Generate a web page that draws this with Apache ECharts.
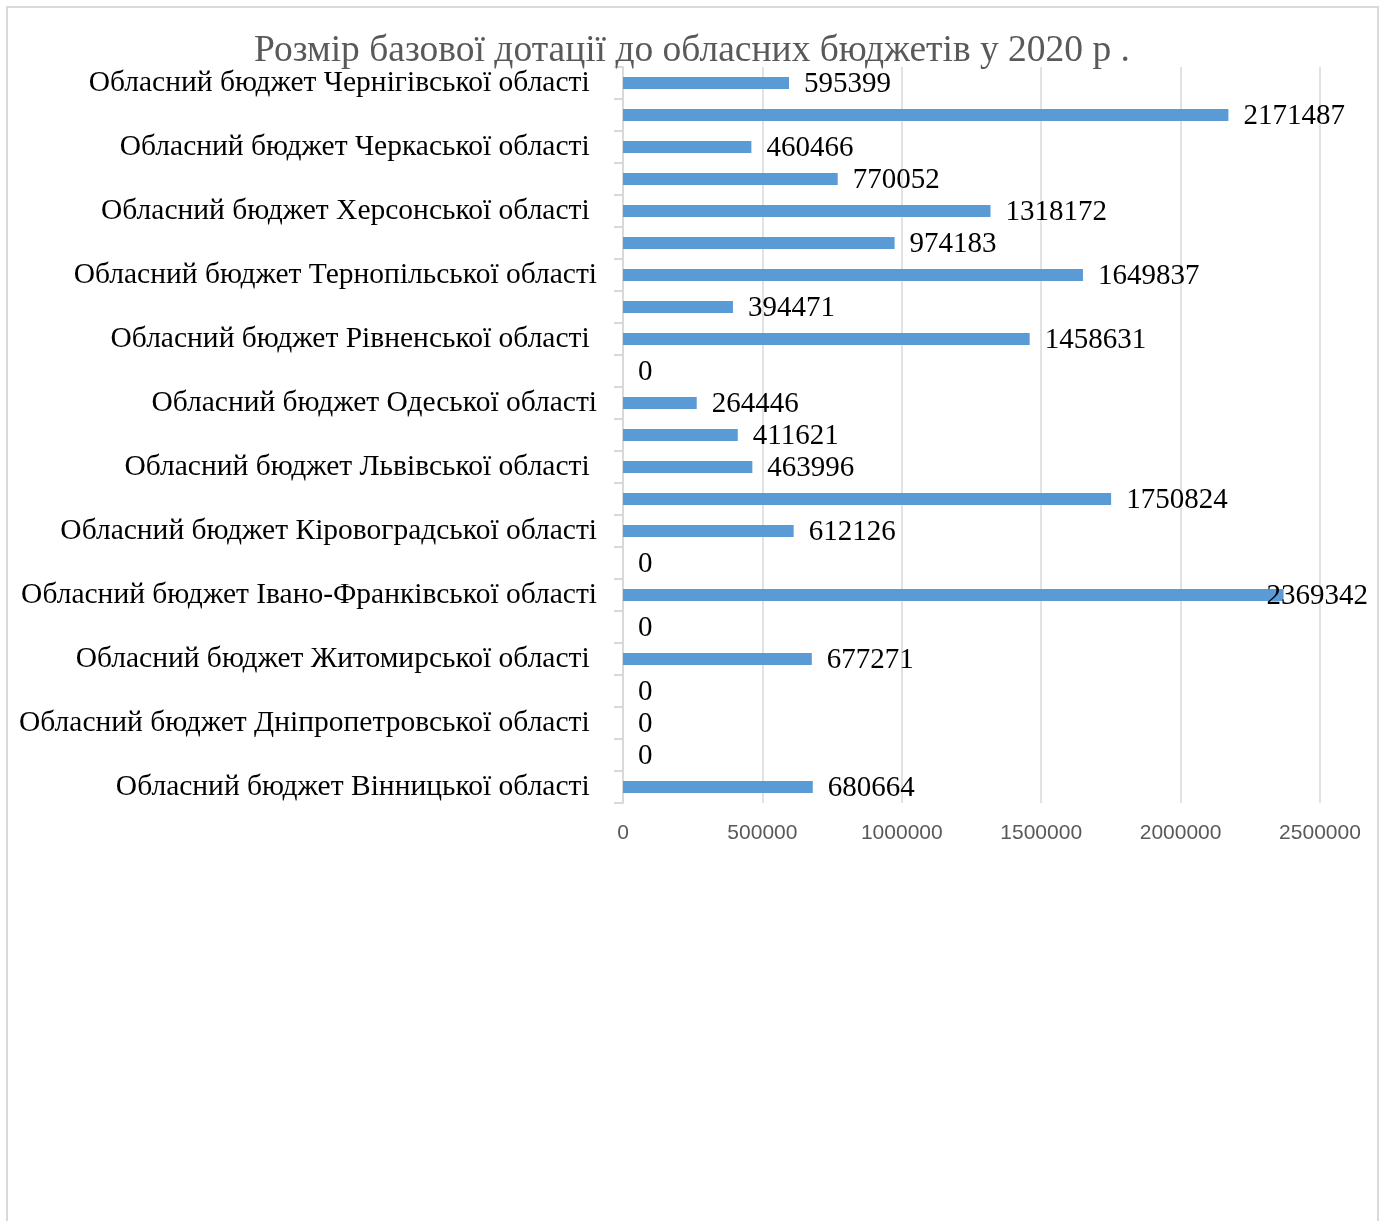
<!DOCTYPE html>
<html>
<head>
<meta charset="utf-8">
<script src="https://cdn.jsdelivr.net/npm/echarts@6/dist/echarts.min.js"></script>
<style>
html,body{margin:0;padding:0;background:#fff;}
#chart{width:1384px;height:1221px;}
</style>
</head>
<body>
<div id="chart"></div>
<script>
const titleText = 'Розмір базової дотації до обласних бюджетів у 2020 р .';
const categories = [
  'Обласний бюджет Вінницької області ',
  'Обласний бюджет Волинської області ',
  'Обласний бюджет Дніпропетровської області ',
  'Обласний бюджет Донецької області ',
  'Обласний бюджет Житомирської області ',
  'Обласний бюджет Закарпатської області ',
  'Обласний бюджет Івано-Франківської області',
  'Обласний бюджет Київської області',
  'Обласний бюджет Кіровоградської області',
  'Обласний бюджет Луганської області',
  'Обласний бюджет Львівської області ',
  'Обласний бюджет Миколаївської області ',
  'Обласний бюджет Одеської області',
  'Обласний бюджет Полтавської області',
  'Обласний бюджет Рівненської області ',
  'Обласний бюджет Сумської області ',
  'Обласний бюджет Тернопільської області',
  'Обласний бюджет Харківської області',
  'Обласний бюджет Херсонської області ',
  'Обласний бюджет Хмельницької області ',
  'Обласний бюджет Черкаської області ',
  'Обласний бюджет Чернівецької області ',
  'Обласний бюджет Чернігівської області '
];
const values = [680664, 0, 0, 0, 677271, 0, 2369342, 0, 612126, 1750824, 463996, 411621, 264446, 0, 1458631, 394471, 1649837, 974183, 1318172, 770052, 460466, 2171487, 595399];
const xMin = 0, xMax = 2500000, xStep = 500000;

const chart = echarts.init(document.getElementById('chart'));
const seriesData = values.map(v => {
  const item = { value: v };
  // labels that would run past the chart border are pulled back inside (as Excel does)
  if (v > 2250000) item.label = { offset: [-32, 1] };
  return item;
});
chart.setOption({
  animation: false,
  backgroundColor: '#fff',
  graphic: [{
    type: 'rect',
    shape: { x: 7, y: 7, width: 1371, height: 1230 },
    style: { fill: 'none', stroke: '#d9d9d9', lineWidth: 2 },
    silent: true
  }],
  title: {
    text: titleText,
    left: 'center',
    top: 27,
    textStyle: { fontFamily: 'Liberation Serif', fontSize: 37.5, fontWeight: 'normal', color: '#595959' }
  },
  grid: { left: 623, right: 64, top: 67, bottom: 418, containLabel: false },
  xAxis: {
    type: 'value', min: xMin, max: xMax, interval: xStep,
    axisLine: { show: false }, axisTick: { show: false },
    splitLine: { lineStyle: { color: '#d9d9d9', width: 1.5 } },
    axisLabel: { fontFamily: 'Liberation Sans', fontSize: 21, color: '#595959', margin: 20, formatter: v => String(v) }
  },
  yAxis: {
    type: 'category', data: categories,
    axisLine: { lineStyle: { color: '#d9d9d9', width: 2 } },
    axisTick: { show: true, interval: 0, length: 9, lineStyle: { color: '#d9d9d9', width: 2 } },
    axisLabel: { interval: 1, fontFamily: 'Liberation Serif', fontSize: 29.5, color: '#000', margin: 26, padding: [6, 0, 0, 0] }
  },
  series: [{
    type: 'bar',
    data: seriesData,
    barWidth: 12,
    itemStyle: { color: '#5B9BD5' },
    label: { show: true, position: 'right', distance: 15, offset: [0, 1], fontFamily: 'Liberation Serif', fontSize: 29, color: '#000' }
  }]
});
</script>
</body>
</html>
